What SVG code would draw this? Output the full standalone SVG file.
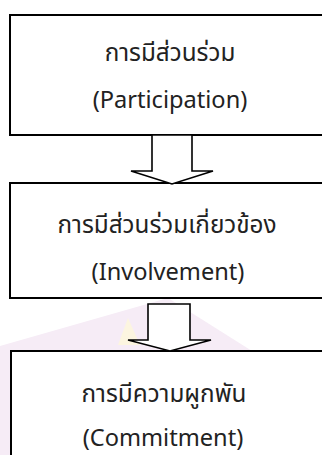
<svg xmlns="http://www.w3.org/2000/svg" width="322" height="455" viewBox="0 0 322 455">
<style>
.box{fill:#fff;stroke:#000;stroke-width:2}
.arr{fill:#fff;stroke:#000;stroke-width:1.6;stroke-linejoin:miter}
text{font-family:"Noto Sans","Noto Sans Thai","Open Sans",sans-serif;font-size:23.6px;fill:#222;text-anchor:middle}
.th{font-size:24.3px}
</style>
<rect width="322" height="455" fill="#fff"/>
<g id="watermark">
<polygon points="0,346 168,298 252,351 0,351" fill="#f6ecf6"/>
<rect x="0" y="351" width="11" height="104" fill="#f6ecf6"/>
<polygon points="118,345 128,318 140,345" fill="#fcf5e0"/>
</g>
<g id="node1">
<rect class="box" x="10" y="15" width="320" height="120"/>
<text class="th" x="170" y="61">การมีส่วนร่วม</text>
<text x="170" y="108">(Participation)</text>
</g>
<g id="node2">
<rect class="box" x="10" y="183" width="320" height="115"/>
<text class="th" x="167" y="233">การมีส่วนร่วมเกี่ยวข้อง</text>
<text x="168" y="280">(Involvement)</text>
</g>
<g id="node3">
<rect class="box" x="11" y="351" width="320" height="110"/>
<text class="th" x="164" y="402">การมีความผูกพัน</text>
<text x="163" y="446">(Commitment)</text>
</g>
<g id="connectors">
<polygon class="arr" points="152,135 192,135 192,171 213,171 172,184 131,171 152,171"/>
<polygon class="arr" points="148,304 190,304 190,340 211,340 170,351 128,340 148,340"/>
</g>
</svg>
